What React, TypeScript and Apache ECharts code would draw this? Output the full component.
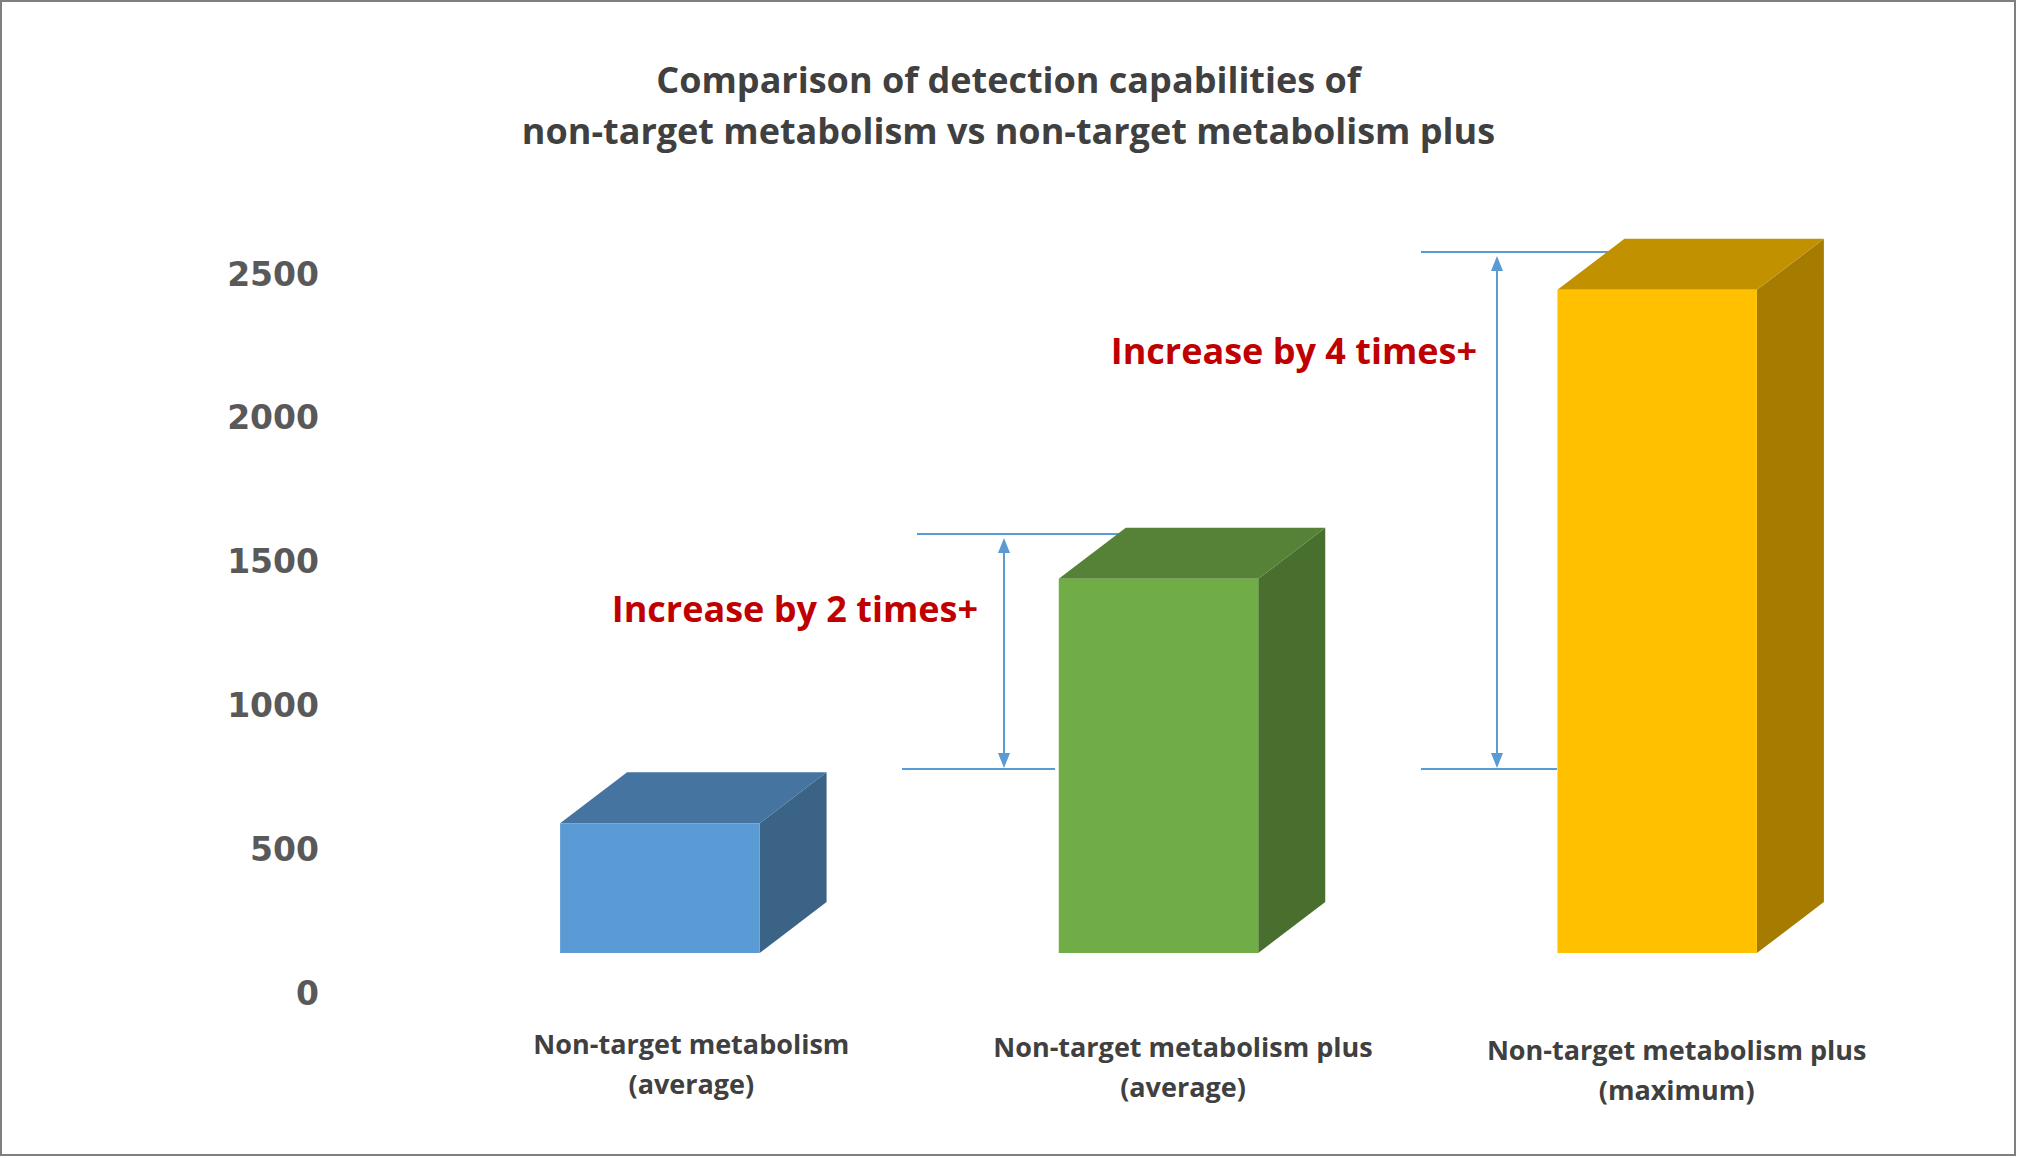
import React, { useEffect, useRef } from "react";
import * as echarts from "echarts";

const TITLE_LINES = [
  "Comparison of detection capabilities of",
  "non-target metabolism vs non-target metabolism plus",
];
const CATEGORIES = [
  "Non-target metabolism\n(average)",
  "Non-target metabolism plus\n(average)",
  "Non-target metabolism plus\n(maximum)",
];
const VALUES = [590, 1440, 2445];
const Y_MIN = 0;
const Y_MAX = 2500;
const Y_INTERVAL = 500;
const ANNOTATION_TEXTS = ["Increase by 2 times+", "Increase by 4 times+"];

const FACE_COLORS = [
  { front: "#5B9BD5", top: "#44749F", side: "#3A6386" },
  { front: "#70AD47", top: "#558236", side: "#486F2D" },
  { front: "#FFC000", top: "#C29100", side: "#A57C00" },
];

const DEPTH_X = 67;
const DEPTH_Y = 51;
const FLOOR_LIFT = 40;
const BAR_RATIO = 0.4;
const ARROW_COLOR = "#5B9BD5";

function arrowHead(x: number, tipY: number, dir: 1 | -1) {
  const baseY = tipY + dir * 15;
  return {
    type: "polygon",
    shape: { points: [[x, tipY], [x - 6, baseY], [x + 6, baseY]] },
    style: { fill: ARROW_COLOR },
    silent: true,
  };
}

function hLine(x1: number, x2: number, y: number) {
  return {
    type: "line",
    shape: { x1, y1: y, x2, y2: y },
    style: { stroke: ARROW_COLOR, lineWidth: 2 },
    silent: true,
  };
}

function vLine(x: number, y1: number, y2: number) {
  return {
    type: "line",
    shape: { x1: x, y1, x2: x, y2 },
    style: { stroke: ARROW_COLOR, lineWidth: 2 },
    silent: true,
  };
}

export default function App() {
  const ref = useRef<HTMLDivElement>(null);

  useEffect(() => {
    document.body.style.margin = "0";
    if (!ref.current) return;
    const chart = echarts.init(ref.current, null, { renderer: "svg" });

    const labelPad = [4, 18, 28];
    const labelTop = [0, 6, 12];
    const rich: any = {};
    labelPad.forEach((p, i) => {
      rich["c" + i] = {
        fontFamily: "Open Sans",
        fontWeight: "bold",
        fontSize: 27,
        lineHeight: 40,
        color: "#404040",
        padding: [labelTop[i], p, 0, 0],
      };
    });

    const option: any = {
      animation: false,
      backgroundColor: "#ffffff",
      title: {
        text: TITLE_LINES.join("\n"),
        left: "center",
        top: 49,
        textStyle: {
          fontFamily: "Open Sans",
          fontWeight: "bold",
          fontSize: 36,
          lineHeight: 51,
          color: "#404040",
        },
      },
      grid: { left: 444, right: 77, top: 274, bottom: 165 },
      xAxis: {
        type: "category",
        data: CATEGORIES,
        axisLine: { show: false },
        axisTick: { show: false },
        splitLine: { show: false },
        axisLabel: {
          margin: 30,
          interval: 0,
          formatter: (v: string, i: number) => {
            const parts = v.split("\n");
            return `{c${i}|${parts[0]}}\n{c${i}|${parts[1]}}`;
          },
          rich,
        },
      },
      yAxis: {
        type: "value",
        min: Y_MIN,
        max: Y_MAX,
        interval: Y_INTERVAL,
        axisLine: { show: false },
        axisTick: { show: false },
        splitLine: { show: false },
        axisLabel: {
          margin: 125,
          formatter: (v: number) => String(v),
          fontFamily: "DejaVu Sans",
          fontWeight: "bold",
          fontSize: 33,
          color: "#595959",
        },
      },
      series: [
        {
          type: "custom",
          data: VALUES.map((v, i) => [i, v]),
          encode: { x: 0, y: 1 },
          renderItem: (params: any, api: any) => {
            const idx = api.value(0);
            const val = api.value(1);
            const top = api.coord([idx, val]);
            const base = api.coord([idx, 0]);
            const band = api.size([1, 0])[0];
            const w = band * BAR_RATIO;
            const cx = top[0] - DEPTH_X / 2;
            const x0 = cx - w / 2;
            const x1 = cx + w / 2;
            const yTop = top[1];
            const yBot = base[1] - FLOOR_LIFT;
            const c = FACE_COLORS[idx % FACE_COLORS.length];
            return {
              type: "group",
              children: [
                {
                  type: "polygon",
                  shape: {
                    points: [
                      [x1, yTop],
                      [x1 + DEPTH_X, yTop - DEPTH_Y],
                      [x1 + DEPTH_X, yBot - DEPTH_Y],
                      [x1, yBot],
                    ],
                  },
                  style: { fill: c.side },
                },
                {
                  type: "polygon",
                  shape: {
                    points: [
                      [x0, yTop],
                      [x0 + DEPTH_X, yTop - DEPTH_Y],
                      [x1 + DEPTH_X, yTop - DEPTH_Y],
                      [x1, yTop],
                    ],
                  },
                  style: { fill: c.top },
                },
                {
                  type: "rect",
                  shape: { x: x0, y: yTop, width: w, height: yBot - yTop },
                  style: { fill: c.front },
                },
              ],
            };
          },
        },
      ],
      graphic: [
        {
          type: "rect",
          shape: { x: 1, y: 1, width: 2014, height: 1154 },
          style: { fill: "none", stroke: "#7F7F7F", lineWidth: 2 },
          silent: true,
        },
        hLine(917, 1120, 534),
        hLine(902, 1055, 769),
        vLine(1004, 545, 762),
        arrowHead(1004, 538, 1),
        arrowHead(1004, 768, -1),
        hLine(1421, 1625, 252),
        hLine(1421, 1557, 769),
        vLine(1497, 262, 762),
        arrowHead(1497, 256, 1),
        arrowHead(1497, 768, -1),
        {
          type: "text",
          x: 978,
          y: 608,
          style: {
            text: ANNOTATION_TEXTS[0],
            fontFamily: "Open Sans",
            fontWeight: "bold",
            fontSize: 36,
            fill: "#C00000",
            align: "right",
            verticalAlign: "middle",
          },
        },
        {
          type: "text",
          x: 1477,
          y: 350,
          style: {
            text: ANNOTATION_TEXTS[1],
            fontFamily: "Open Sans",
            fontWeight: "bold",
            fontSize: 36,
            fill: "#C00000",
            align: "right",
            verticalAlign: "middle",
          },
        },
      ],
    };

    chart.setOption(option);
    return () => chart.dispose();
  }, []);

  return <div ref={ref} style={{ width: 2017, height: 1158 }} />;
}
